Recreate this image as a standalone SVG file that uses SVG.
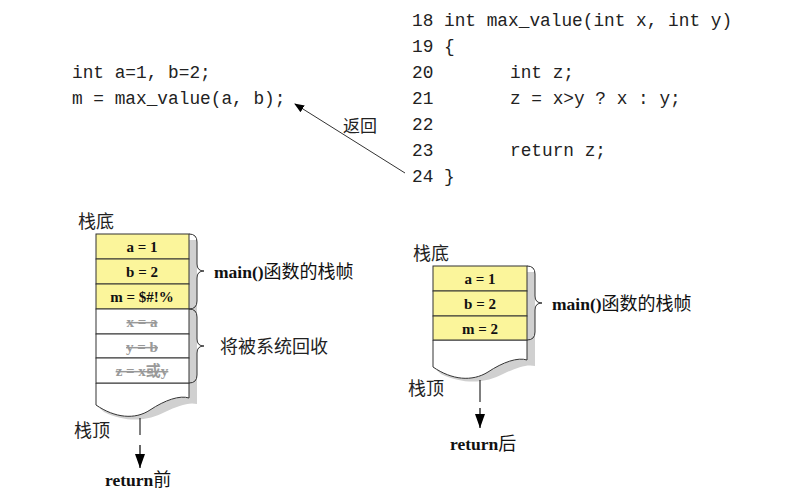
<svg xmlns="http://www.w3.org/2000/svg" width="786" height="497" viewBox="0 0 786 497">
<defs>
<marker id="ah" markerWidth="10" markerHeight="10" refX="9" refY="5" orient="auto" markerUnits="userSpaceOnUse">
<path d="M0,1 L10,5 L0,9 Z" fill="#000"/>
</marker>
<marker id="ah2" markerWidth="12" markerHeight="14" refX="6" refY="14" orient="0" markerUnits="userSpaceOnUse">
<path d="M1,0 L11,0 L6,14 Z" fill="#000"/>
</marker>
</defs>
<style>
.code{font-family:"Liberation Mono","Noto Sans CJK SC",monospace;font-size:17.8px;fill:#222}
.cell{font-family:"Liberation Serif","Noto Sans CJK SC",serif;font-size:15px;font-weight:bold;fill:#111;text-anchor:middle}
.dead{font-family:"Liberation Serif","Noto Sans CJK SC",serif;font-size:15px;font-weight:bold;fill:#999;text-anchor:middle;text-decoration:line-through}
.lab{font-family:"Noto Sans CJK SC",sans-serif;font-size:18px;fill:#222}
.blab{font-family:"Liberation Serif","Noto Sans CJK SC",serif;font-size:17.5px;font-weight:bold;fill:#111}
.cj{font-family:"Noto Sans CJK SC",sans-serif;font-weight:normal;font-size:18px}
.y{fill:#fbf59b;stroke:#333;stroke-width:1}
.w{fill:#fff;stroke:#333;stroke-width:1}
.sh{fill:#d0d0d0}
.br{fill:none;stroke:#333;stroke-width:1}
</style>
<rect width="786" height="497" fill="#fff"/>

<g id="caller-code">
<text class="code" x="72" y="78">int a=1, b=2;</text>
<text class="code" x="72" y="104">m = max_value(a, b);</text>
</g>

<g id="callee-code">
<text class="code" x="412" y="26">18 int max_value(int x, int y)</text>
<text class="code" x="412" y="52">19 {</text>
<text class="code" x="412" y="78">20</text>
<text class="code" x="510" y="78">int z;</text>
<text class="code" x="412" y="104">21</text>
<text class="code" x="510" y="104">z = x&gt;y ? x : y;</text>
<text class="code" x="412" y="130">22</text>
<text class="code" x="412" y="156">23</text>
<text class="code" x="510" y="156">return z;</text>
<text class="code" x="412" y="182">24 }</text>
</g>

<g id="return-label">
<text class="lab" x="343" y="132" style="font-size:17px">返回</text>
</g>

<g id="left-stack">
<text class="lab" x="78" y="228">栈底</text>
<path class="sh" d="M189,240 L197,240 L197,404 C188,402 178,406 165,412 C150,420 128,424 104,412 L96,405 C115,418 135,420 150,410 C165,400 180,395 189,398 Z"/>
<path class="w" d="M96,383 L189,383 L189,398 C180,395 165,400 150,410 C135,420 115,418 96,405 Z"/>
<rect class="y" x="96" y="234" width="93" height="25"/>
<rect class="y" x="96" y="259" width="93" height="25"/>
<rect class="y" x="96" y="284" width="93" height="25"/>
<rect class="w" x="96" y="309" width="93" height="25"/>
<rect class="w" x="96" y="334" width="93" height="24"/>
<rect class="w" x="96" y="358" width="93" height="25"/>
<text class="cell" x="142" y="252">a = 1</text>
<text class="cell" x="142" y="277">b = 2</text>
<text class="cell" x="142" y="302">m = $#!%</text>
<text class="dead" x="142" y="327">x = a</text>
<text class="dead" x="142" y="352">y = b</text>
<text class="dead" x="142" y="376">z = x或y</text>
<path class="br" d="M189,234 Q197,234 197,242 L197,264 Q197,271 204,271 Q197,271 197,278 L197,301 Q197,309 189,309"/>
<path class="br" d="M189,309 Q197,309 197,317 L197,339 Q197,346 204,346 Q197,346 197,353 L197,375 Q197,383 189,383"/>
<text class="blab" x="214" y="278">main()<tspan class="cj">函数的栈帧</tspan></text>
<text class="lab" x="220" y="353">将被系统回收</text>
<text class="lab" x="74" y="437">栈顶</text>
<text class="blab" x="105" y="486">return<tspan class="cj">前</tspan></text>
</g>

<g id="right-stack">
<text class="lab" x="413" y="260">栈底</text>
<path class="sh" d="M527,272 L535,272 L535,366 C526,364 516,368 503,374 C488,382 466,386 441,374 L433,367 C452,380 472,382 488,372 C503,362 518,357 527,360 Z"/>
<path class="w" d="M433,340 L527,340 L527,360 C518,357 503,362 488,372 C472,382 452,380 433,367 Z"/>
<rect class="y" x="433" y="266" width="94" height="25"/>
<rect class="y" x="433" y="291" width="94" height="25"/>
<rect class="y" x="433" y="316" width="94" height="24"/>
<text class="cell" x="480" y="284">a = 1</text>
<text class="cell" x="480" y="309">b = 2</text>
<text class="cell" x="480" y="334">m = 2</text>
<path class="br" d="M527,266 Q535,266 535,274 L535,296 Q535,303 542,303 Q535,303 535,310 L535,332 Q535,340 527,340"/>
<text class="blab" x="552" y="310">main()<tspan class="cj">函数的栈帧</tspan></text>
<text class="lab" x="408" y="395">栈顶</text>
<text class="blab" x="450" y="450">return<tspan class="cj">后</tspan></text>
</g>

<g id="connectors">
<line x1="405" y1="173" x2="295" y2="104" stroke="#333" stroke-width="1" marker-end="url(#ah)"/>
<line x1="140" y1="418" x2="140" y2="435" stroke="#000" stroke-width="1"/>
<line x1="140" y1="445" x2="140" y2="468" stroke="#000" stroke-width="1.2" marker-end="url(#ah2)"/>
<line x1="480" y1="380" x2="480" y2="402" stroke="#000" stroke-width="1"/>
<line x1="480" y1="408" x2="480" y2="428" stroke="#000" stroke-width="1.2" marker-end="url(#ah2)"/>
</g>
</svg>
